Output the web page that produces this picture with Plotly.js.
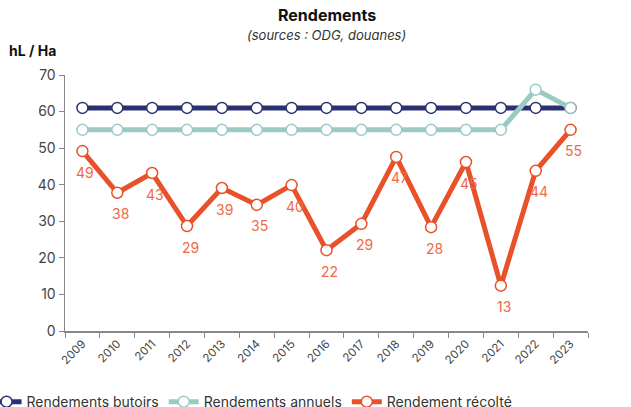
<!DOCTYPE html>
<html><head><meta charset="utf-8">
<script src="https://cdn.plot.ly/plotly-3.0.1.min.js"></script>
<style>html,body{margin:0;padding:0;background:#fff}#c{width:631px;height:407px}</style>
</head><body><div id="c"></div>
<script>
const years = ["2009","2010","2011","2012","2013","2014","2015","2016","2017","2018","2019","2020","2021","2022","2023"];
const butoirs = [61,61,61,61,61,61,61,61,61,61,61,61,61,61,61];
const annuels = [55,55,55,55,55,55,55,55,55,55,55,55,55,66,61];
const recolte = [49.2,37.8,43.2,28.7,39.1,34.5,39.9,22.1,29.3,47.6,28.4,46.2,12.4,43.8,55];
const recolteLabels = ["49","38","43","29","39","35","40","22","29","47","28","45","13","44","55"];

const FONT = "Inter, 'Open Sans', sans-serif";
const traces = [
  {x: years, y: butoirs, name: "Rendements butoirs", type: "scatter", mode: "lines+markers",
   line: {color: "#2A3172", width: 5}, marker: {symbol: "circle", size: 11, color: "#ffffff", line: {color: "#2A3172", width: 1.5}}},
  {x: years, y: annuels, name: "Rendements annuels", type: "scatter", mode: "lines+markers",
   line: {color: "#9BCAC5", width: 5}, marker: {symbol: "circle", size: 11, color: "#ffffff", line: {color: "#9BCAC5", width: 1.5}}},
  {x: years, y: recolte, name: "Rendement récolté", type: "scatter", mode: "lines+markers",
   line: {color: "#E9512A", width: 5}, marker: {symbol: "circle", size: 11, color: "#ffffff", line: {color: "#E9512A", width: 1.5}}}
];
const labelAnns = years.map((yr, i) => ({
  x: i, y: recolte[i], xref: "x", yref: "y", text: recolteLabels[i], showarrow: false,
  xanchor: "center", yanchor: "middle", xshift: 3, yshift: -21,
  font: {color: "#EF6A47", size: 14, family: FONT}
}));
const layout = {
  width: 631, height: 407,
  margin: {l: 65, r: 43, t: 75, b: 76, autoexpand: false},
  paper_bgcolor: "#fff", plot_bgcolor: "#fff",
  font: {family: FONT, color: "#333", size: 13},
  showlegend: true,
  legend: {orientation: "h", x: -0.15, xanchor: "left", y: -0.215, yanchor: "top",
           font: {size: 14, color: "#333"}, tracegroupgap: 0},
  xaxis: {type: "category", range: [-0.5, 14.5], tickson: "boundaries", ticks: "outside", ticklen: 5, tickcolor: "#888", automargin: false,
          showline: true, linecolor: "#888", linewidth: 1.5, showgrid: false, zeroline: false,
          tickangle: -45, tickfont: {size: 11.5, color: "#444"}},
  yaxis: {range: [0, 70], dtick: 10, ticks: "outside", ticklen: 5, tickcolor: "#888", automargin: false,
          showline: true, linecolor: "#888", linewidth: 1.5, showgrid: false, zeroline: false,
          tickfont: {size: 14, color: "#444"}},
  annotations: [
    {text: "<b>Rendements</b>", xref: "paper", yref: "paper", x: 0.5, y: 1, yshift: 60, xanchor: "center", yanchor: "middle", showarrow: false, font: {size: 16, color: "#111"}},
    {text: "<i>(sources : ODG, douanes)</i>", xref: "paper", yref: "paper", x: 0.5, y: 1, yshift: 40, xanchor: "center", yanchor: "middle", showarrow: false, font: {size: 13, color: "#333"}},
    {text: "<b>hL / Ha</b>", xref: "paper", yref: "paper", x: 0, y: 1, xshift: -58, yshift: 25, xanchor: "left", yanchor: "middle", showarrow: false, font: {size: 14, color: "#111"}}
  ].concat(labelAnns)
};
Plotly.newPlot("c", traces, layout, {displayModeBar: false, staticPlot: true});
</script></body></html>
